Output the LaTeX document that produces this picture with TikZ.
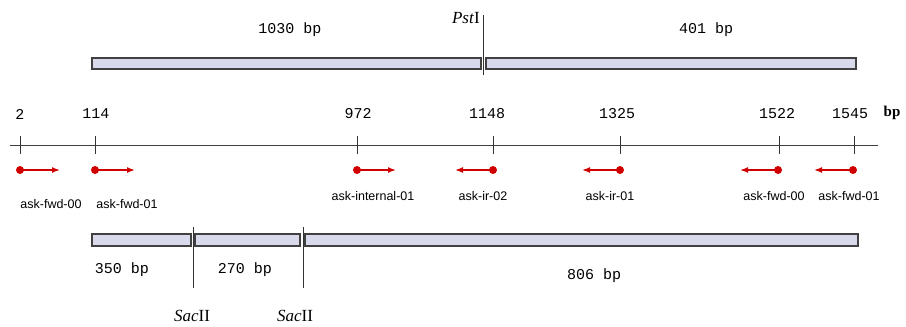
\documentclass[tikz,border=0pt]{standalone}
\usepackage{fontspec}
\setmainfont{Liberation Serif}
\newfontfamily\monof{Liberation Mono}
\newfontfamily\sansf{Liberation Sans}
\usetikzlibrary{arrows.meta}
\definecolor{boxfill}{HTML}{D8DAEC}
\definecolor{boxline}{HTML}{404040}
\definecolor{primred}{HTML}{D00000}
\tikzset{
  frag/.style={draw=boxline, fill=boxfill, line width=1.2pt},
  cutline/.style={draw=black!80, line width=1pt},
  axisline/.style={draw=black!75, line width=1pt},
  tick/.style={draw=black!80, line width=1pt},
  sizelbl/.style={font=\monof\fontsize{15}{15}\selectfont, inner sep=0pt},
  poslbl/.style={font=\monof\fontsize{15}{15}\selectfont, inner sep=0pt},
  primlbl/.style={font=\sansf\fontsize{12.5}{12.5}\selectfont, inner sep=0pt},
  enzlbl/.style={font=\fontsize{17}{17}\selectfont, inner sep=0pt},
  primer/.style={draw=primred, line width=1.5pt, -{Latex[length=8pt,width=6pt]}},
  dot/.style={circle, fill=primred, inner sep=0pt, minimum size=8pt},
}
\begin{document}
\begin{tikzpicture}[x=1pt,y=-1pt]
\useasboundingbox (0,0) rectangle (906,327);
% top fragments
\draw[frag] (92,58) rectangle (481,69);
\draw[frag] (486,58) rectangle (856,69);
\coordinate (pt) at (483,15);
\coordinate (pb) at (483,75);
\draw[cutline] (pt) -- (pb);
\node[enzlbl, anchor=east] (pst) at (480,18) {\textit{Pst}I};
\node[sizelbl] (s1030) at (290,30) {1030 bp};
\node[sizelbl] (s401) at (706,30) {401 bp};
% axis
\coordinate (al) at (10,145);
\coordinate (ar) at (878,145);
\draw[axisline] (al) -- (ar);
\node[font=\bfseries\fontsize{15}{15}\selectfont, inner sep=0pt] (bp) at (892,113) {bp};
\foreach \x/\lab/\lx/\n in {20/2/20/a,95/114/96/b,357/972/358/c,493/1148/487/d,620/1325/617/e,779/1522/777/f,854/1545/850/g}{
  \coordinate (t\n top) at (\x,136);
  \coordinate (t\n bot) at (\x,154);
  \draw[tick] (t\n top) -- (t\n bot);
  \node[poslbl] (l\n) at (\lx,114) {\lab};
}
% primers
\foreach \x/\e/\n in {20/60/a,95/135/b,357/396/c,493/455/d,620/582/e,778/740/f,853/814/g}{
  \node[dot] (d\n) at (\x,170) {};
  \coordinate (e\n) at (\e,170);
  \draw[primer] (d\n.center) -- (e\n);
}
\node[primlbl] (pa) at (51,204) {ask-fwd-00};
\node[primlbl] (pb2) at (127,204) {ask-fwd-01};
\node[primlbl] (pc) at (373,196) {ask-internal-01};
\node[primlbl] (pd) at (483,196) {ask-ir-02};
\node[primlbl] (pe) at (610,196) {ask-ir-01};
\node[primlbl] (pf) at (774,196) {ask-fwd-00};
\node[primlbl] (pg) at (849,196) {ask-fwd-01};
% bottom fragments
\draw[frag] (92,234) rectangle (191,246);
\draw[frag] (195,234) rectangle (300,246);
\draw[frag] (305,234) rectangle (858,246);
\coordinate (c1t) at (193,227);
\coordinate (c1b) at (193,288);
\coordinate (c2t) at (303,227);
\coordinate (c2b) at (303,288);
\draw[cutline] (c1t) -- (c1b);
\draw[cutline] (c2t) -- (c2b);
\node[sizelbl] (s350) at (122,270) {350 bp};
\node[sizelbl] (s270) at (245,270) {270 bp};
\node[sizelbl] (s806) at (594,276) {806 bp};
\node[enzlbl] (sac1) at (192,316) {\textit{Sac}II};
\node[enzlbl] (sac2) at (295,316) {\textit{Sac}II};
\end{tikzpicture}
\end{document}
